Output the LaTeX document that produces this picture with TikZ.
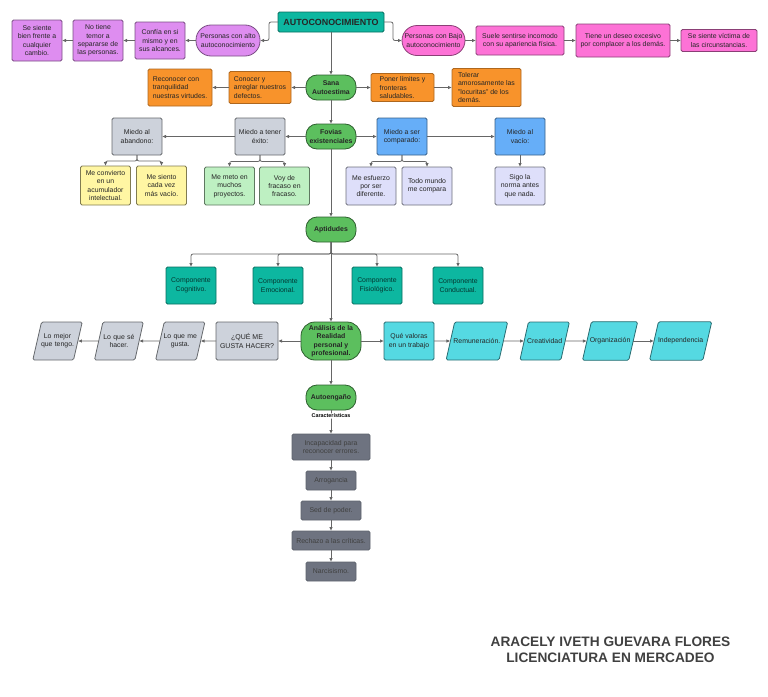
\documentclass[tikz,border=0pt]{standalone}
\usepackage{fontspec}
\setmainfont{Liberation Sans}
\usepackage{tikz}
\usetikzlibrary{shapes.geometric}
\usetikzlibrary{arrows.meta, positioning}

\definecolor{boxpurple}{HTML}{DE8DF0}
\definecolor{boxpink}{HTML}{FD72D6}
\definecolor{boxorange}{HTML}{F8932B}
\definecolor{boxgreen}{HTML}{5CBF5E}
\definecolor{boxgray}{HTML}{CDD2DB}
\definecolor{boxyellow}{HTML}{FFF6A3}
\definecolor{boxmint}{HTML}{BEF0C2}
\definecolor{boxblue}{HTML}{66AEF8}
\definecolor{boxlav}{HTML}{DEDFFA}
\definecolor{boxteal}{HTML}{0DB7A0}
\definecolor{boxcyan}{HTML}{55D9E2}
\definecolor{boxslate}{HTML}{6E7380}

\newcommand{\slanttext}[1]{\makebox[0pt]{#1}}

\begin{document}
\begin{tikzpicture}[
        x=1pt, y=-1pt,
        basebox/.style={
            rectangle,
            rounded corners=1.5pt,
            line width=0.8pt,
            inner sep=0pt,
            outer sep=0pt,
            minimum width=50pt,
            minimum height=37pt,
            align=center,
            text=black!85,
            font=\fontsize{6.9}{8.4}\selectfont
        },
        purplebox/.style={basebox, fill=boxpurple, draw=boxpurple!55!black},
        pinkbox/.style={basebox, fill=boxpink, draw=boxpink!55!black},
        orangebox/.style={basebox, fill=boxorange, draw=boxorange!70!black},
        graybox/.style={basebox, fill=boxgray, draw=boxgray!50!black},
        yellowbox/.style={basebox, fill=boxyellow, draw=boxyellow!50!black, minimum height=39pt},
        mintbox/.style={basebox, fill=boxmint, draw=boxmint!50!black, minimum height=38pt},
        bluebox/.style={basebox, fill=boxblue, draw=boxblue!55!black},
        lavbox/.style={basebox, fill=boxlav, draw=boxlav!50!black, minimum height=38pt},
        tealbox/.style={basebox, fill=boxteal, draw=boxteal!60!black, text=black!70!boxteal},
        cyanbox/.style={basebox, fill=boxcyan, draw=boxcyan!50!black, minimum height=38pt},
        slatebox/.style={basebox, fill=boxslate, draw=boxslate!85!black, text=black!75, minimum height=19pt},
        pillbox/.style={basebox, fill=boxgreen, draw=boxgreen!50!black, rounded corners=11pt,
            minimum height=25pt, font=\fontsize{6.9}{8.4}\selectfont\bfseries},
        slantbox/.style={basebox, trapezium, trapezium left angle=77, trapezium right angle=103,
            trapezium stretches=true, minimum width=0pt, minimum height=38pt},
        slantgray/.style={slantbox, fill=boxgray, draw=boxgray!50!black, text width=32pt, inner ysep=11.5pt},
        slantcyan/.style={slantbox, fill=boxcyan, draw=boxcyan!50!black, inner ysep=16pt},
        arrow/.style={
            -{Latex[length=4pt,width=3.5pt]},
            line width=0.8pt,
            draw=black!60,
            rounded corners=2pt
        }
    ]
    \useasboundingbox (0,0) rectangle (768,696);

    % Main column
    \node[basebox, fill=boxteal, draw=boxteal!60!black, minimum width=106pt, minimum height=20pt,
        font=\fontsize{8.9}{10}\selectfont\bfseries] (auto) at (331,22) {AUTOCONOCIMIENTO};
    \node[pillbox, below=43pt of auto] (sana) {Sana\\Autoestima};
    \node[pillbox, below=24pt of sana] (fovias) {Fovias\\existenciales};
    \node[pillbox, below=68pt of fovias] (aptitud) {Aptidudes};
    \node[pillbox, below=80pt of aptitud, minimum width=60pt, minimum height=38pt, rounded corners=14pt] (analisis)
        {Análisis de la\\Realidad\\personal y\\profesional.};
    \node[pillbox, below=25pt of analisis] (engano) {Autoengaño};

    % High self knowledge
    \node[purplebox, rounded corners=15pt, minimum width=64pt, minimum height=31pt] (alto) at (228,40.5)
        {Personas con alto\\autoconocimiento};
    \node[purplebox, left=11pt of alto] (confia) {Confía en si\\mismo y en\\sus alcances.};
    \node[purplebox, left=12pt of confia, minimum height=41pt] (notiene) {No tiene\\temor a\\separarse de\\las personas.};
    \node[purplebox, left=11pt of notiene, minimum height=41pt] (bien) {Se siente\\bien frente a\\cualquier\\cambio.};

    % Low self knowledge
    \node[pinkbox, rounded corners=15pt, minimum width=63pt, minimum height=30pt] (bajo) at (433.5,40.5)
        {Personas con Bajo\\autoconocimiento};
    \node[pinkbox, right=11pt of bajo, minimum width=88pt, minimum height=29pt] (suele)
        {Suele sentirse incomodo\\con su apariencia física.};
    \node[pinkbox, right=12pt of suele, minimum width=94pt, minimum height=33pt] (tiene)
        {Tiene un deseo excesivo\\por complacer a los demás.};
    \node[pinkbox, right=11pt of tiene, minimum width=76pt, minimum height=22pt] (victima)
        {Se siente víctima de\\las circunstancias.};

    % Self esteem
    \node[orangebox, left=15pt of sana, minimum width=62pt, minimum height=32pt, align=left] (conocer)
        {Conocer y\\arreglar nuestros\\defectos.};
    \node[orangebox, left=17pt of conocer, minimum width=64pt, align=left] (reconocer)
        {Reconocer con\\tranquilidad\\nuestras virtudes.};
    \node[orangebox, right=15pt of sana, minimum width=63pt, minimum height=28pt, align=left] (poner)
        {Poner límites y\\fronteras\\saludables.};
    \node[orangebox, right=18pt of poner, minimum width=69pt, minimum height=38pt, align=left] (tolerar)
        {Tolerar\\amorosamente las\\"locuritas" de los\\demás.};

    % Fears
    \node[graybox, left=21pt of fovias] (tener) {Miedo a tener\\éxito:};
    \node[graybox, left=73pt of tener] (abandono) {Miedo al\\abandono:};
    \node[bluebox, right=21pt of fovias] (comparado) {Miedo a ser\\comparado:};
    \node[bluebox, right=68pt of comparado] (vacio) {Miedo al\\vacío:};
    \node[yellowbox, below=11pt of abandono, xshift=-31.5pt] (acumulador) {Me convierto\\en un\\acumulador\\intelectual.};
    \node[yellowbox, below=11pt of abandono, xshift=24.5pt] (siento) {Me siento\\cada vez\\más vacío.};
    \node[mintbox, below=12pt of tener, xshift=-30.5pt] (meto) {Me meto en\\muchos\\proyectos.};
    \node[mintbox, below=12pt of tener, xshift=24.5pt] (fracaso) {Voy de\\fracaso en\\fracaso.};
    \node[lavbox, below=12pt of comparado, xshift=-31pt] (esfuerzo) {Me esfuerzo\\por ser\\diferente.};
    \node[lavbox, below=12pt of comparado, xshift=25pt] (todo) {Todo mundo\\me compara};
    \node[lavbox, below=12pt of vacio] (norma) {Sigo la\\norma antes\\que nada.};

    % Components
    \node[tealbox, below=25pt of aptitud, xshift=-140pt] (cognitivo) {Componente\\Cognitivo.};
    \node[tealbox, below=25pt of aptitud, xshift=-53pt] (emocional) {Componente\\Emocional.};
    \node[tealbox, below=25pt of aptitud, xshift=46pt] (fisiologico) {Componente\\Fisiológico.};
    \node[tealbox, below=25pt of aptitud, xshift=127pt] (conductual) {Componente\\Conductual.};

    % Analysis row
    \node[graybox, left=23pt of analisis, minimum width=62pt, minimum height=38pt,
        font=\fontsize{7}{8.4}\selectfont] (gusta) {¿QUÉ ME\\GUSTA HACER?};
    \node[slantgray, left=15.4pt of gusta] (megusta) {\slanttext{Lo que me}\\\slanttext{gusta.}};
    \node[slantgray, left=20.8pt of megusta] (hacer) {\slanttext{Lo que sé}\\\slanttext{hacer.}};
    \node[slantgray, left=20.8pt of hacer] (mejor) {\slanttext{Lo mejor}\\\slanttext{que tengo.}};
    \node[cyanbox, right=23pt of analisis] (valoras) {Qué valoras\\en un trabajo};
    \node[slantcyan, right=16.4pt of valoras, text width=44.4pt] (remun) {\slanttext{Remuneración.}};
    \node[slantcyan, right=20.8pt of remun, text width=32.4pt] (creat) {\slanttext{Creatividad}};
    \node[slantcyan, right=21.8pt of creat, text width=37.4pt] (organ) {\slanttext{Organización}};
    \node[slantcyan, right=20.8pt of organ, text width=44.4pt] (indep) {\slanttext{Independencia}};

    % Self deception
    \node[slatebox, below=24pt of engano, minimum width=78pt, minimum height=26pt] (incapaz) {Incapacidad para\\reconocer errores.};
    \node[slatebox, below=11pt of incapaz] (arrog) {Arrogancia};
    \node[slatebox, below=11pt of arrog, minimum width=60pt] (poder) {Sed de poder.};
    \node[slatebox, below=11pt of poder, minimum width=78pt] (critica) {Rechazo a las críticas.};
    \node[slatebox, below=12pt of critica] (narciso) {Narcisismo.};

    % Signature
    \node[font=\fontsize{13.7}{16}\selectfont\bfseries, align=center, text=black!75] (firma) at (610.5,650)
        {ARACELY IVETH GUEVARA FLORES\\LICENCIATURA EN MERCADEO};

    % Arrows of the main column
    \draw[arrow] (auto) -- (sana);
    \draw[arrow] (sana) -- (fovias);
    \draw[arrow] (fovias) -- (aptitud);
    \draw[arrow] (aptitud) -- (analisis);
    \draw[arrow] (analisis) -- (engano);
    \draw[arrow] (engano) -- node[pos=0.25, fill=white, inner sep=0.5pt, font=\fontsize{5.4}{6}\selectfont\bfseries] (caract) {Características} (incapaz);

    % Top rows
    \draw[arrow] (auto.west) -- ++(-9,0) |- (alto.east);
    \draw[arrow] (alto) -- (confia);
    \draw[arrow] (confia) -- (notiene);
    \draw[arrow] (notiene) -- (bien);
    \draw[arrow] (auto.east) -- ++(9,0) |- (bajo.west);
    \draw[arrow] (bajo) -- (suele);
    \draw[arrow] (suele) -- (tiene);
    \draw[arrow] (tiene) -- (victima);
    \draw[arrow] (sana) -- (conocer);
    \draw[arrow] (conocer) -- (reconocer);
    \draw[arrow] (sana) -- (poner);
    \draw[arrow] (poner) -- (tolerar);

    % Fear rows
    \draw[arrow] (fovias) -- (tener);
    \draw[arrow] (tener) -- (abandono);
    \draw[arrow] (fovias) -- (comparado);
    \draw[arrow] (comparado) -- (vacio);
    \draw[arrow] (vacio) -- (norma);
    \draw[arrow] (abandono.south) -- ++(0,6) -| (acumulador.north);
    \draw[arrow] (abandono.south) -- ++(0,6) -| (siento.north);
    \draw[arrow] (tener.south) -- ++(0,6.5) -| (meto.north);
    \draw[arrow] (tener.south) -- ++(0,6.5) -| (fracaso.north);
    \draw[arrow] (comparado.south) -- ++(0,6.5) -| (esfuerzo.north);
    \draw[arrow] (comparado.south) -- ++(0,6.5) -| (todo.north);

    % Components
    \draw[arrow] (aptitud.south) -- ++(0,12) -| (cognitivo.north);
    \draw[arrow] (aptitud.south) -- ++(0,12) -| (emocional.north);
    \draw[arrow] (aptitud.south) -- ++(0,12) -| (fisiologico.north);
    \draw[arrow] (aptitud.south) -- ++(0,12) -| (conductual.north);

    % Analysis row
    \draw[arrow] (analisis) -- (gusta);
    \draw[arrow] (gusta) -- (megusta);
    \draw[arrow] (megusta) -- (hacer);
    \draw[arrow] (hacer) -- (mejor);
    \draw[arrow] (analisis) -- (valoras);
    \draw[arrow] (valoras) -- (remun);
    \draw[arrow] (remun) -- (creat);
    \draw[arrow] (creat) -- (organ);
    \draw[arrow] (organ) -- (indep);

    % Self deception column
    \draw[arrow] (incapaz) -- (arrog);
    \draw[arrow] (arrog) -- (poder);
    \draw[arrow] (poder) -- (critica);
    \draw[arrow] (critica) -- (narciso);

\end{tikzpicture}
\end{document}
